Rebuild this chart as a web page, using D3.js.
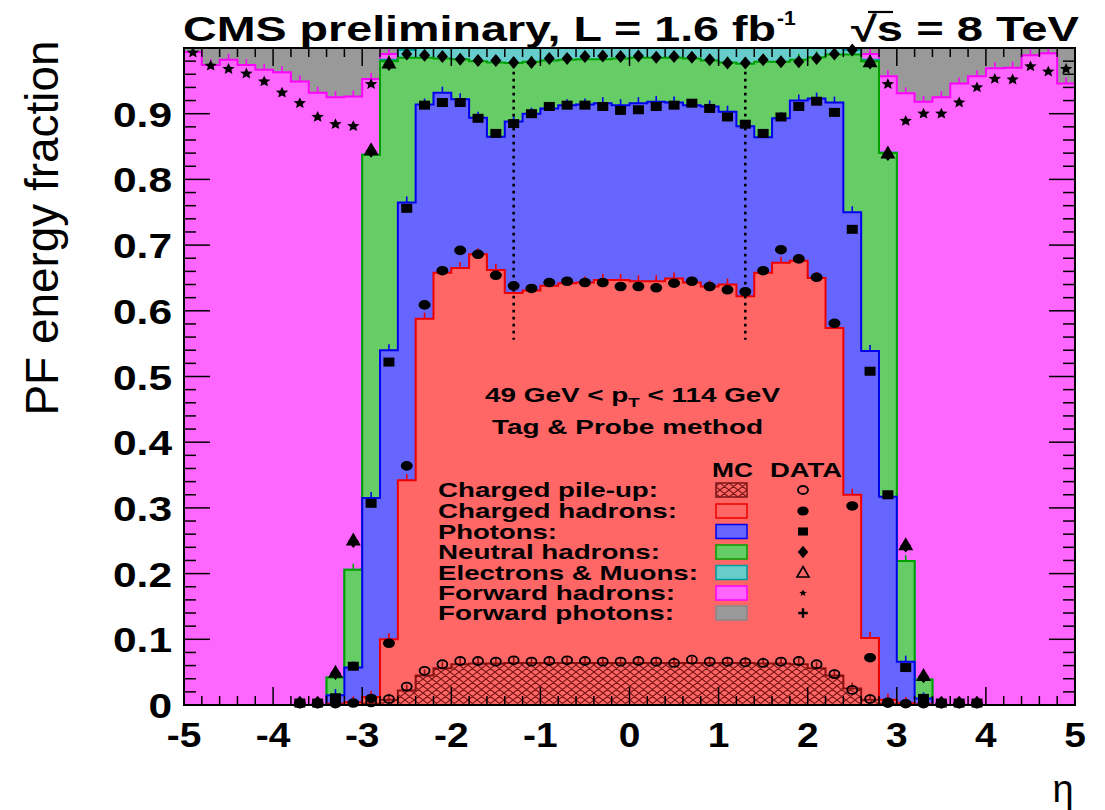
<!DOCTYPE html>
<html>
<head>
<meta charset="utf-8">
<script src="https://cdn.jsdelivr.net/npm/d3@7/dist/d3.min.js"></script>
<style>
  body { margin: 0; background: #fff; }
  svg { display: block; }
  text { font-family: "Liberation Sans", Arial, Helvetica, sans-serif; }
</style>
</head>
<body>
<svg id="chart" width="1105" height="810"></svg>
<script>
// ---- eta binning (50 bins of width 0.2) ----
const etaEdges = [-5.0,-4.8,-4.6,-4.4,-4.2,-4.0,-3.8,-3.6,-3.4,-3.2,-3.0,-2.8,-2.6,-2.4,-2.2,-2.0,-1.8,-1.6,-1.4,-1.2,-1.0,
  -0.8,-0.6,-0.4,-0.2,0.0,0.2,0.4,0.6,0.8,1.0,1.2,1.4,1.6,1.8,2.0,2.2,2.4,2.6,2.8,3.0,3.2,3.4,3.6,3.8,4.0,4.2,4.4,4.6,4.8,5.0];
const etaCenters = [-4.9,-4.7,-4.5,-4.3,-4.1,-3.9,-3.7,-3.5,-3.3,-3.1,-2.9,-2.7,-2.5,-2.3,-2.1,-1.9,-1.7,-1.5,-1.3,-1.1,
  -0.9,-0.7,-0.5,-0.3,-0.1,0.1,0.3,0.5,0.7,0.9,1.1,1.3,1.5,1.7,1.9,2.1,2.3,2.5,2.7,2.9,3.1,3.3,3.5,3.7,3.9,4.1,4.3,4.5,4.7,4.9];

// ---- simulated energy fractions per component (stacked bottom to top) ----
const mcPileUp = [0,0,0,0,0,0,0,0,0,0,0.002,0.008,0.022,0.045,0.056,0.062,0.063,0.063,0.064,0.064,
  0.064,0.064,0.064,0.064,0.064,0.064,0.064,0.064,0.064,0.064,0.064,0.064,0.063,0.063,0.062,0.056,0.045,0.025,0.008,0.002,
  0,0,0,0,0,0,0,0,0,0];
const mcChargedHadrons = [0,0,0,0,0,0,0,0,0.002,0.004,0.010,0.092,0.320,0.543,0.602,0.603,0.623,0.599,0.563,0.567,
  0.574,0.578,0.579,0.583,0.583,0.581,0.581,0.585,0.579,0.573,0.576,0.558,0.595,0.610,0.614,0.594,0.529,0.295,0.094,0.006,
  0.003,0.001,0,0,0,0,0,0,0,0];
const mcPhotons = [0,0,0,0,0,0,0,0,0.013,0.053,0.303,0.440,0.423,0.326,0.274,0.257,0.208,0.203,0.261,0.269,
  0.270,0.271,0.271,0.269,0.266,0.271,0.273,0.268,0.270,0.274,0.263,0.259,0.206,0.220,0.244,0.273,0.343,0.430,0.437,0.309,
  0.063,0.009,0,0,0,0,0,0,0,0];
const mcNeutralHadrons = [0,0,0,0,0,0,0,0,0.027,0.149,0.522,0.440,0.220,0.071,0.052,0.061,0.086,0.113,0.089,0.079,
  0.073,0.069,0.069,0.067,0.071,0.069,0.067,0.068,0.071,0.070,0.075,0.095,0.115,0.086,0.062,0.063,0.073,0.240,0.441,0.523,
  0.153,0.029,0,0,0,0,0,0,0,0];
const mcElectronsMuons = [0,0,0,0,0,0,0,0,0,0,0.001,0.002,0.012,0.015,0.016,0.017,0.020,0.022,0.023,0.021,
  0.019,0.018,0.017,0.017,0.016,0.015,0.015,0.015,0.016,0.019,0.022,0.024,0.021,0.021,0.018,0.014,0.010,0.007,0.002,0.001,
  0,0,0,0,0,0,0,0,0,0];
const mcForwardHadrons = [0.994,0.974,0.982,0.974,0.967,0.963,0.949,0.932,0.883,0.720,0.115,0.009,0.002,0,0,0,0,0,0,0,
  0,0,0,0,0,0,0,0,0,0,0,0,0,0,0,0,0,0.002,0.009,0.116,
  0.712,0.879,0.925,0.946,0.957,0.969,0.970,0.989,0.992,0.946];
const mcForwardPhotons = [0.006,0.026,0.018,0.026,0.033,0.037,0.051,0.068,0.075,0.074,0.047,0.009,0.001,0,0,0,0,0,0,0,
  0,0,0,0,0,0,0,0,0,0,0,0,0,0,0,0,0,0.001,0.009,0.043,
  0.069,0.082,0.075,0.054,0.043,0.031,0.030,0.011,0.008,0.054];

// ---- measured (tag & probe) points, stacked position of each species ----
const dataPileUp = [null,null,null,null,null,null,null,null,null,null,0.004,0.009,0.028,0.052,0.062,0.067,0.067,0.066,0.068,0.066,
  0.067,0.068,0.067,0.066,0.066,0.067,0.066,0.064,0.069,0.066,0.066,0.065,0.064,0.066,0.067,0.062,0.047,0.023,0.009,0.003,
  null,null,null,null,null,null,null,null,null,null];
const dataChargedHadrons = [null,null,null,null,null,null,0.002,0.002,0.002,0.003,0.010,0.094,0.364,0.609,0.661,0.692,0.686,0.654,0.638,0.634,
  0.643,0.645,0.643,0.643,0.637,0.637,0.635,0.642,0.645,0.637,0.632,0.629,0.661,0.693,0.679,0.651,0.581,0.303,0.072,0.004,
  0.002,0.002,0.002,0.002,0.002,null,null,null,null,null];
const dataPhotons = [null,null,null,null,null,null,0.003,0.003,0.011,0.059,0.307,0.522,0.756,0.913,0.917,0.917,0.893,0.870,0.885,0.900,
  0.911,0.913,0.913,0.911,0.905,0.906,0.911,0.913,0.916,0.908,0.895,0.884,0.870,0.895,0.911,0.919,0.902,0.724,0.508,0.320,
  0.057,0.010,0.003,0.003,0.003,null,null,null,null,null];
const dataNeutralHadrons = [null,null,null,null,null,null,0.004,0.004,0.048,0.249,0.843,0.975,0.991,0.989,0.987,0.983,0.981,0.981,0.978,0.978,
  0.984,0.984,0.987,0.988,0.987,0.988,0.986,0.987,0.986,0.982,0.977,0.977,0.982,0.979,0.979,0.984,0.991,0.997,0.977,0.838,
  0.242,0.043,0.004,0.004,0.004,null,null,null,null,null];
const dataElectronsMuons = [null,null,null,null,null,null,null,null,0.050,0.251,0.845,0.977,null,null,null,null,null,null,null,null,
  null,null,null,null,null,null,null,null,null,null,null,null,null,null,null,null,null,null,0.979,0.840,
  0.244,0.045,null,null,null,null,null,null,null,null];
const dataForwardHadrons = [0.993,0.973,0.968,0.961,0.949,0.932,0.916,0.895,0.884,0.881,0.945,null,null,null,null,null,null,null,null,null,
  null,null,null,null,null,null,null,null,null,null,null,null,null,null,null,null,null,null,null,0.945,
  0.889,0.900,0.900,0.917,0.940,0.953,0.952,0.972,0.964,0.968];

// ---- axis ticks and labels ----
const xTickValues = [-5,-4,-3,-2,-1,0,1,2,3,4,5];
const yTickValues = [0,0.1,0.2,0.3,0.4,0.5,0.6,0.7,0.8,0.9];
const yTickLabels = ["0","0.1","0.2","0.3","0.4","0.5","0.6","0.7","0.8","0.9"];
const barrelBoundary = [-1.3, 1.3];

const legendNames = ["Charged pile-up:","Charged hadrons:","Photons:","Neutral hadrons:","Electrons & Muons:","Forward hadrons:","Forward photons:"];
const legendWidths = [220,239,119,222,260,237,236];

// ---- styles per component ----
const keys = ["pu","ch","ph","nh","em","fh","fp"];
const fills = {pu:"#ff6666", ch:"#ff6666", ph:"#6666ff", nh:"#66cc66", em:"#66cccc", fh:"#ff66ff", fp:"#999999"};
const lines = {pu:"#8a1010", ch:"#ee0000", ph:"#0000ee", nh:"#00a000", em:"#009a9a", fh:"#ff00ff", fp:"#888888"};

const svg = d3.select("#chart");
const plot = {left:184, right:1075, top:48, bottom:705};

const x = d3.scaleLinear().domain([-5,5]).range([plot.left, plot.right]);
const y = d3.scaleLinear().domain([0,1]).range([plot.bottom, plot.top]);

// defs: cross hatch for pile-up
const defs = svg.append("defs");
const pat = defs.append("pattern").attr("id","xhatch").attr("patternUnits","userSpaceOnUse")
  .attr("width",9).attr("height",7);
pat.append("rect").attr("width",9).attr("height",7).attr("fill","#ff6666");
pat.append("path").attr("d","M0,0 L9,7 M0,7 L9,0 M-1,6.2 L1,7.8 M8,-0.8 L10,0.8 M-1,0.8 L1,-0.8 M8,7.8 L10,6.2")
  .attr("stroke","#7a1515").attr("stroke-width",1.1).attr("fill","none");
defs.append("clipPath").attr("id","plotclip").append("rect")
  .attr("x",plot.left).attr("y",plot.top-1).attr("width",plot.right-plot.left).attr("height",plot.bottom-plot.top+1);

// stacked table
const table = etaCenters.map((c,i) => ({
  pu: mcPileUp[i], ch: mcChargedHadrons[i], ph: mcPhotons[i], nh: mcNeutralHadrons[i],
  em: mcElectronsMuons[i], fh: mcForwardHadrons[i], fp: mcForwardPhotons[i]
}));
const stacked = d3.stack().keys(keys)(table);

const gPlot = svg.append("g").attr("clip-path","url(#plotclip)");

function stepPoints(layer){
  const pts = layer.map((d,i) => [etaEdges[i], d[1]]);
  pts.push([etaEdges[50], layer[49][1]]);
  return pts;
}
const area = d3.area().curve(d3.curveStepAfter).x(d=>x(d[0])).y0(y(0)).y1(d=>y(Math.min(d[1],1)));
const line = d3.line().curve(d3.curveStepAfter).x(d=>x(d[0])).y(d=>y(Math.min(d[1],1)));

// draw the stack from the outermost cumulative layer down
for (let k = keys.length-1; k >= 0; k--) {
  const key = keys[k];
  const layer = stacked[k];
  const pts = stepPoints(layer);
  gPlot.append("path").attr("d", area(pts))
    .attr("fill", key === "pu" ? "url(#xhatch)" : fills[key]);
  gPlot.append("path").attr("d", line(pts))
    .attr("fill","none").attr("stroke", lines[key]).attr("stroke-width", key==="fp"?0:2);
  // short statistical error ticks on the histogram tops
  if (key !== "fp" && key !== "em") {
    const g = gPlot.append("g");
    layer.forEach((d,i) => {
      if (table[i][key] <= 0) return;
      const yy = y(Math.min(d[1],1));
      g.append("line").attr("x1",x(etaCenters[i])).attr("x2",x(etaCenters[i]))
        .attr("y1",yy).attr("y2",yy-6).attr("stroke",lines[key]).attr("stroke-width",1.6);
    });
  }
}

// dotted barrel boundary lines
svg.selectAll("line.bnd").data(barrelBoundary).enter().append("line")
  .attr("x1",d=>x(d)).attr("x2",d=>x(d)).attr("y1",y(0.985)).attr("y2",y(0.556))
  .attr("stroke","#000").attr("stroke-width",2.6).attr("stroke-dasharray","2.6,4.4");

// ---- markers ----
const gM = svg.append("g");
function starPath(r){
  const p=[]; for(let j=0;j<10;j++){const a=-Math.PI/2+j*Math.PI/5; const rr=j%2?r*0.45:r; p.push([rr*Math.cos(a)*1.1, rr*Math.sin(a)]);}
  return "M"+p.map(q=>q.join(",")).join("L")+"Z";
}
const markerDraw = {
  openCircle: (g,cx,cy,s=1) => g.append("ellipse").attr("cx",cx).attr("cy",cy).attr("rx",5*s).attr("ry",4*s)
      .attr("fill","none").attr("stroke","#000").attr("stroke-width",1.8),
  circle: (g,cx,cy,s=1) => g.append("ellipse").attr("cx",cx).attr("cy",cy).attr("rx",6*s).attr("ry",4.8*s).attr("fill","#000"),
  square: (g,cx,cy,s=1) => g.append("rect").attr("x",cx-5.5*s).attr("y",cy-4.5*s).attr("width",11*s).attr("height",9*s).attr("fill","#000"),
  diamond: (g,cx,cy,s=1) => g.append("path").attr("d",`M${cx},${cy-6.5*s}L${cx+5.5*s},${cy}L${cx},${cy+6.5*s}L${cx-5.5*s},${cy}Z`).attr("fill","#000"),
  triangle: (g,cx,cy,s=1) => g.append("path").attr("d",`M${cx},${cy-7.5*s}L${cx+7.5*s},${cy+5.5*s}L${cx-7.5*s},${cy+5.5*s}Z`).attr("fill","#000"),
  openTriangle: (g,cx,cy,s=1) => g.append("path").attr("d",`M${cx},${cy-6*s}L${cx+6*s},${cy+4.5*s}L${cx-6*s},${cy+4.5*s}Z`)
      .attr("fill","none").attr("stroke","#000").attr("stroke-width",1.6),
  star: (g,cx,cy,s=1) => g.append("path").attr("d",starPath(6*s)).attr("transform",`translate(${cx},${cy})`).attr("fill","#000"),
  plus: (g,cx,cy,s=1) => g.append("path").attr("d",`M${cx-5*s},${cy}H${cx+5*s}M${cx},${cy-5*s}V${cy+5*s}`)
      .attr("stroke","#000").attr("stroke-width",2.4)
};
const dataSeries = [
  [dataPileUp,"openCircle"],[dataChargedHadrons,"circle"],[dataPhotons,"square"],
  [dataNeutralHadrons,"diamond"],[dataElectronsMuons,"triangle"],[dataForwardHadrons,"star"]
];
dataSeries.forEach(([arr,kind]) => {
  arr.forEach((v,i) => { if (v !== null) markerDraw[kind](gM, x(etaCenters[i]), y(v)); });
});

// ---- frame and ticks ----
const gA = svg.append("g");
gA.append("rect").attr("x",plot.left).attr("y",plot.top).attr("width",plot.right-plot.left).attr("height",plot.bottom-plot.top)
  .attr("fill","none").attr("stroke","#000").attr("stroke-width",2);
x.ticks(50).forEach(t => {
  const major = Math.abs(t - Math.round(t)) < 1e-6;
  const len = major ? 18 : 9;
  gA.append("line").attr("x1",x(t)).attr("x2",x(t)).attr("y1",plot.bottom).attr("y2",plot.bottom-len).attr("stroke","#000").attr("stroke-width",1.5);
  gA.append("line").attr("x1",x(t)).attr("x2",x(t)).attr("y1",plot.top).attr("y2",plot.top+len).attr("stroke","#000").attr("stroke-width",1.5);
});
y.ticks(50).forEach(t => {
  const major = Math.abs(t*10 - Math.round(t*10)) < 1e-6;
  const len = major ? 26 : 12;
  gA.append("line").attr("x1",plot.left).attr("x2",plot.left+len).attr("y1",y(t)).attr("y2",y(t)).attr("stroke","#000").attr("stroke-width",1.5);
  gA.append("line").attr("x1",plot.right).attr("x2",plot.right-len).attr("y1",y(t)).attr("y2",y(t)).attr("stroke","#000").attr("stroke-width",1.5);
});

// tick labels (slightly widened bold Helvetica look)
gA.selectAll("text.xl").data(xTickValues).enter().append("text")
  .attr("transform",d=>`translate(${x(d)},747) scale(1.08,1)`).attr("text-anchor","middle")
  .attr("font-size",36).attr("font-weight","bold").text(d=>String(d));
gA.selectAll("text.yl").data(yTickValues).enter().append("text")
  .attr("transform",d=>`translate(172,${y(d)+13}) scale(1.18,1)`).attr("text-anchor","end")
  .attr("font-size",36).attr("font-weight","bold").text((d,i)=>yTickLabels[i]);

// axis titles
svg.append("text").attr("x",1063).attr("y",802).attr("text-anchor","middle").attr("font-size",38).text("η");
svg.append("text").attr("transform","translate(58,228) rotate(-90)").attr("text-anchor","middle")
  .attr("font-size",47).attr("textLength",375).attr("lengthAdjust","spacingAndGlyphs").text("PF energy fraction");

// header
svg.append("text").attr("x",183).attr("y",41).attr("font-size",35).attr("font-weight","bold")
  .attr("textLength",593).attr("lengthAdjust","spacingAndGlyphs").text("CMS preliminary, L = 1.6 fb");
svg.append("text").attr("x",777).attr("y",25).attr("font-size",21).attr("font-weight","bold").text("-1");
svg.append("text").attr("x",851).attr("y",41).attr("font-size",35).attr("font-weight","bold")
  .attr("textLength",228).attr("lengthAdjust","spacingAndGlyphs").text("√s = 8 TeV");
// bar of the square root over "s"
svg.append("line").attr("x1",868).attr("x2",893).attr("y1",12).attr("y2",12).attr("stroke","#000").attr("stroke-width",2.2);

// selection text
const pt = svg.append("text").attr("x",485).attr("y",402).attr("font-size",19.5).attr("font-weight","bold");
pt.append("tspan").text("49 GeV < p");
pt.append("tspan").attr("dy",5).attr("font-size",13).text("T");
pt.append("tspan").attr("dy",-5).text(" < 114 GeV");
pt.attr("textLength",295).attr("lengthAdjust","spacingAndGlyphs");
svg.append("text").attr("x",492).attr("y",434).attr("font-size",19.5).attr("font-weight","bold")
  .attr("textLength",271).attr("lengthAdjust","spacingAndGlyphs").text("Tag & Probe method");

// legend
svg.append("text").attr("x",712).attr("y",477).attr("font-size",20).attr("font-weight","bold")
  .attr("textLength",41).attr("lengthAdjust","spacingAndGlyphs").text("MC");
svg.append("text").attr("x",770).attr("y",477).attr("font-size",20).attr("font-weight","bold")
  .attr("textLength",72).attr("lengthAdjust","spacingAndGlyphs").text("DATA");
const rowY = [490,511,531.5,552,572.5,593,613];
const legendKeys = ["pu","ch","ph","nh","em","fh","fp"];
const legendMarkers = ["openCircle","circle","square","diamond","openTriangle","star","plus"];
const legendScale = [1.0,0.95,0.9,0.95,1.0,0.6,0.95];
legendNames.forEach((name,i) => {
  svg.append("text").attr("x",438).attr("y",rowY[i]+7).attr("font-size",20.5).attr("font-weight","bold")
    .attr("textLength",legendWidths[i]).attr("lengthAdjust","spacingAndGlyphs").text(name);
  const k = legendKeys[i];
  svg.append("rect").attr("x",716).attr("y",rowY[i]-7).attr("width",31).attr("height",14)
    .attr("fill", k==="pu" ? "url(#xhatch)" : fills[k]).attr("stroke", k==="pu" ? "#7a1515" : lines[k]).attr("stroke-width",1.5);
  markerDraw[legendMarkers[i]](svg, 803, rowY[i], legendScale[i]);
});
</script>
</body>
</html>
